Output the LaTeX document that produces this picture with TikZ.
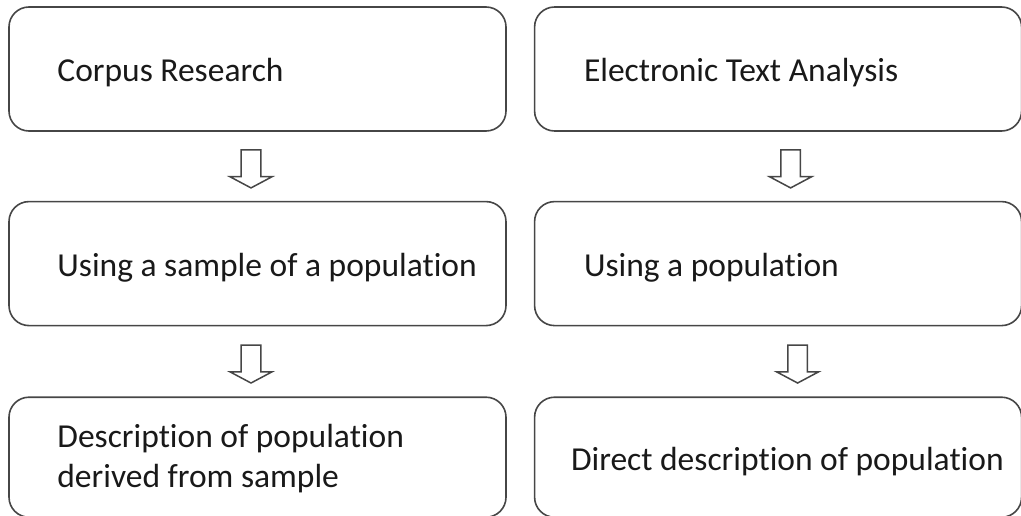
\documentclass[tikz,border=0pt]{standalone}
\usepackage{fontspec}
\setmainfont{Carlito}[Ligatures={NoCommon,NoContextual}]
\usetikzlibrary{positioning,shapes.arrows,calc}
\definecolor{linegray}{RGB}{70,70,70}
\definecolor{textgray}{RGB}{25,25,25}

\begin{document}
\begin{tikzpicture}[
                            x=1pt, y=1pt,
                            node distance=69pt and 27pt,
                            box/.style={rectangle, rounded corners=20pt, draw=linegray, line width=1.6pt, minimum height=124pt, inner sep=0pt},
                            txt/.style={inner sep=0pt, align=left, text=textgray, font=\fontsize{33.5}{40}\selectfont, yshift=-4pt},
                            blockarrow/.style={single arrow, draw=linegray, line width=1.5pt, rotate=-90, minimum width=42pt, minimum height=38pt, inner xsep=0pt, inner ysep=8.5pt, single arrow head extend=10.5pt, single arrow tip angle=124}
                        ]
                        \useasboundingbox (0,0) rectangle (1021,-516);
                        % Blocks
                        \node [box, minimum width=497pt] (corpus) at (257.5,-69) {};
                        \node [box, minimum width=497pt, below=of corpus] (sample) {};
                        \node [box, minimum width=497pt, minimum height=120pt, below=70pt of sample] (derived) {};
                        \node [box, minimum width=487pt, right=of corpus] (electronic) {};
                        \node [box, minimum width=487pt, right=of sample] (population) {};
                        \node [box, minimum width=487pt, minimum height=120pt, right=of derived] (direct) {};

                        % Texts
                        \node [txt, right=49pt of corpus.west] (corpusText) {Corpus Research};
                        \node [txt, right=49pt of sample.west] (sampleText) {Using a sample of a population};
                        \node [txt, right=49pt of derived.west, yshift=3pt] (derivedText) {Description of population\\derived from sample};
                        \node [txt, right=50pt of electronic.west] (electronicText) {Electronic Text Analysis};
                        \node [txt, right=50pt of population.west] (populationText) {Using a population};
                        \node [txt, right=37pt of direct.west] (directText) {Direct description of population};

                        % Connections
                        \node [blockarrow] (corpusArrow) at ($(corpus.south)!0.5!(sample.north)+(-6.5,0)$) {};
                        \node [blockarrow] (sampleArrow) at ($(sample.south)!0.5!(derived.north)+(-6.5,0)$) {};
                        \node [blockarrow] (electronicArrow) at ($(electronic.south)!0.5!(population.north)+(12.5,0)$) {};
                        \node [blockarrow] (populationArrow) at ($(population.south)!0.5!(direct.north)+(19.5,0)$) {};
                    \end{tikzpicture}
\end{document}
